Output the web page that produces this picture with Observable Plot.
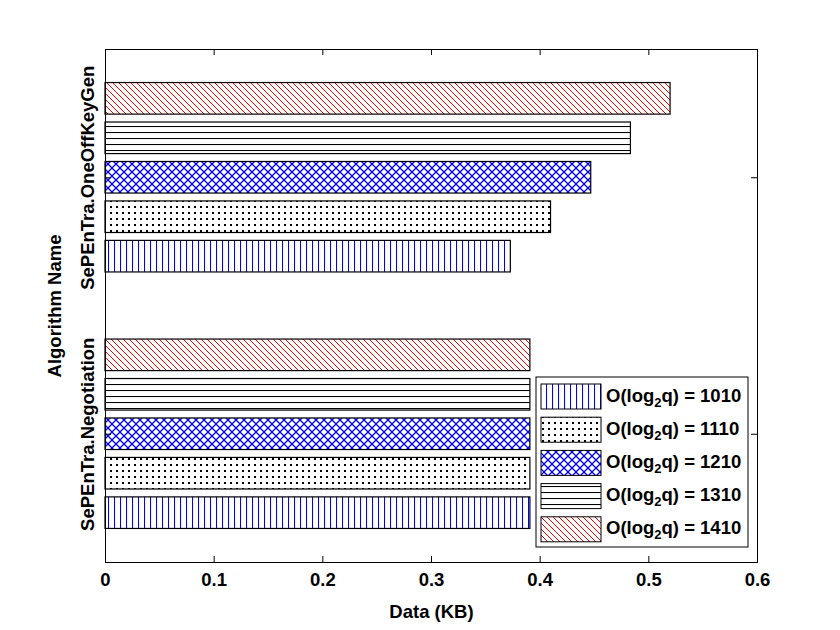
<!DOCTYPE html>
<html>
<head>
<meta charset="utf-8">
<script src="https://cdn.jsdelivr.net/npm/d3@7"></script>
<script src="https://cdn.jsdelivr.net/npm/@observablehq/plot@0.6"></script>
<style>
  html, body { margin: 0; padding: 0; background: #fff; }
  #chart svg { display: block; }
</style>
</head>
<body>
<div id="chart"></div>
<script>
// ---- data ----
const groups = ["SePEnTra.Negotiation", "SePEnTra.OneOffKeyGen"];
const seriesLabels = ["1010", "1110", "1210", "1310", "1410"];
const negotiation = [0.391, 0.391, 0.391, 0.391, 0.391];
const oneOffKeyGen = [0.373, 0.410, 0.447, 0.4835, 0.520];
const xTicks = [0, 0.1, 0.2, 0.3, 0.4, 0.5, 0.6];
const yTicks = [1, 2];

// ---- derived table ----
const seriesValues = [negotiation, oneOffKeyGen];
const nS = seriesLabels.length;
const groupWidth = Math.min(0.8, nS / (nS + 1.5));
const step = groupWidth / nS;
const barW = step * 0.8;
const rows = groups.flatMap((g, gi) =>
  seriesLabels.map((s, si) => ({
    group: g, series: s, si, value: seriesValues[gi][si], center: gi + 1
  }))
);

const W = 840, H = 630;
const mL = 105, mR = 83, mT = 49, mB = 68;
const fw = W - mL - mR, fh = H - mT - mB;
const font = "'Liberation Sans', Arial, Helvetica, sans-serif";
const fs = 18.5;

const plot = Plot.plot({
  width: W, height: H,
  marginLeft: mL, marginRight: mR, marginTop: mT, marginBottom: mB,
  style: { fontFamily: font, fontSize: fs + "px", fontWeight: "bold", color: "#000", background: "#fff" },
  x: { domain: [0, 0.6] },
  y: { domain: [0.5, 2.5], axis: null },
  marks: [
    Plot.rect(rows, {
      x1: 0, x2: "value",
      y1: d => d.center + (d.si - (nS - 1) / 2) * step - barW / 2,
      y2: d => d.center + (d.si - (nS - 1) / 2) * step + barW / 2,
      fill: d => `url(#pat${d.si})`,
      stroke: "#000", strokeWidth: 1.2
    }),
    Plot.frame({ stroke: "#000", strokeWidth: 1 }),
    Plot.tickX(xTicks, { x: d => d, insetTop: fh - 6, stroke: "#000" }),
    Plot.tickX(xTicks, { x: d => d, insetBottom: fh - 6, stroke: "#000" }),
    Plot.tickY(yTicks, { y: d => d, insetRight: fw - 6, stroke: "#000" }),
    Plot.tickY(yTicks, { y: d => d, insetLeft: fw - 6, stroke: "#000" }),
    Plot.axisX({ ticks: xTicks, tickFormat: d => String(d), tickSize: 0, tickPadding: 10, label: null, fontSize: fs, fontWeight: "bold" }),
    Plot.text(groups, {
      y: (d, i) => yTicks[i], text: d => d, frameAnchor: "left", dx: -17,
      rotate: -90, textAnchor: "middle", lineAnchor: "middle", fontSize: fs, fontWeight: "bold", fill: "#000"
    }),
    Plot.text(["Algorithm Name"], {
      text: d => d, frameAnchor: "left", dx: -50, rotate: -90,
      textAnchor: "middle", lineAnchor: "middle", fontSize: fs, fontWeight: "bold", fill: "#000"
    }),
    Plot.text(["Data (KB)"], {
      text: d => d, frameAnchor: "bottom", dy: 50,
      textAnchor: "middle", lineAnchor: "middle", fontSize: fs, fontWeight: "bold", fill: "#000"
    })
  ]
});

// ---- hatch patterns ----
const svg = d3.select(plot);
const defs = svg.insert("defs", ":first-child");
function pat(id, w, h) {
  const p = defs.append("pattern").attr("id", id).attr("patternUnits", "userSpaceOnUse")
    .attr("width", w).attr("height", h);
  p.append("rect").attr("width", w).attr("height", h).attr("fill", "#fff");
  return p;
}
// 1010: vertical blue lines
pat("pat0", 6, 6).append("path").attr("d", "M0.5,0V6").attr("stroke", "#0000ff").attr("stroke-width", 1.1);
// 1110: black dots
pat("pat1", 6, 6).append("rect").attr("x", 2).attr("y", 2).attr("width", 2).attr("height", 2).attr("fill", "#000");
// 1210: blue cross hatch
pat("pat2", 8, 8).append("path").attr("d", "M-1,-1L9,9M9,-1L-1,9").attr("stroke", "#0000ff").attr("stroke-width", 1.3).attr("fill", "none");
// 1310: horizontal black lines
pat("pat3", 6, 6).append("path").attr("d", "M0,0.5H6").attr("stroke", "#000").attr("stroke-width", 1.1);
// 1410: red diagonal lines
pat("pat4", 6, 6).append("path").attr("d", "M-1,-1L7,7M-1,5L1,7M5,-1L7,1").attr("stroke", "#ff0000").attr("stroke-width", 1).attr("fill", "none");

// ---- legend ----
const lg = svg.append("g").attr("font-family", font).attr("font-size", fs).attr("font-weight", "bold")
  .attr("text-anchor", "start");
const lgX = 536, lgY = 377, lgW = 212, lgH = 170, rowH = 33.2, firstC = 396.5;
lg.append("rect").attr("x", lgX).attr("y", lgY).attr("width", lgW).attr("height", lgH)
  .attr("fill", "#fff").attr("stroke", "#000").attr("stroke-width", 1);
seriesLabels.forEach((s, i) => {
  const cy = firstC + i * rowH;
  lg.append("rect").attr("x", 541).attr("y", cy - 12.5).attr("width", 60).attr("height", 25)
    .attr("fill", `url(#pat${i})`).attr("stroke", "#000").attr("stroke-width", 1);
  const t = lg.append("text").attr("x", 606).attr("y", cy + 5).attr("fill", "#000")
    .attr("text-anchor", "start");
  t.append("tspan").text("O(log");
  t.append("tspan").attr("font-size", 13).attr("dy", 5).text("2");
  t.append("tspan").attr("dy", -5).text(`q) = ${s}`);
});

document.getElementById("chart").appendChild(plot);
</script>
</body>
</html>
